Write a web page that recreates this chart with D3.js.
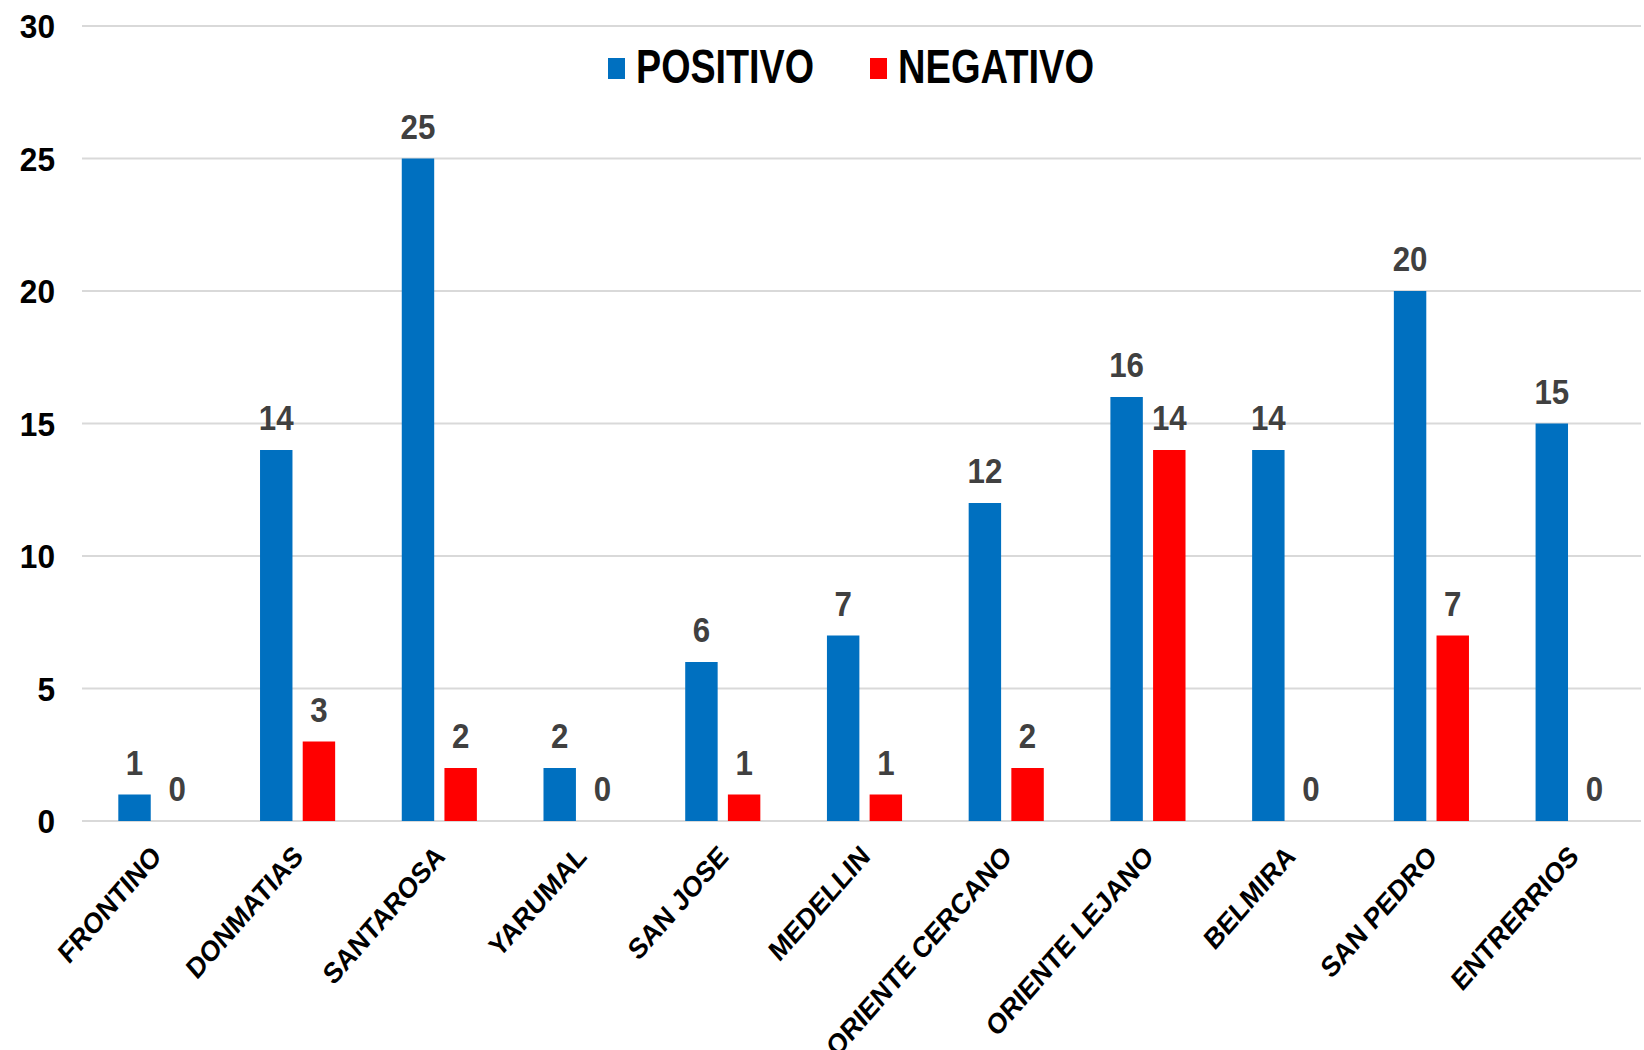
<!DOCTYPE html>
<html>
<head>
<meta charset="utf-8">
<script src="https://cdn.jsdelivr.net/npm/d3@7"></script>
<style>
  html, body { margin: 0; padding: 0; background: #fff; }
  svg { display: block; }
  text { font-family: "Liberation Sans", Arial, sans-serif; font-weight: bold; }
</style>
</head>
<body>
<svg id="chart" width="1644" height="1050"></svg>
<script>
const categories = ["FRONTINO", "DONMATIAS", "SANTAROSA", "YARUMAL", "SAN JOSE", "MEDELLIN",
  "ORIENTE CERCANO", "ORIENTE LEJANO", "BELMIRA", "SAN PEDRO", "ENTRERRIOS"];
const positivo = [1, 14, 25, 2, 6, 7, 12, 16, 14, 20, 15];
const negativo = [0, 3, 2, 0, 1, 1, 2, 14, 0, 7, 0];
const seriesNames = ["POSITIVO", "NEGATIVO"];
const yTicks = [0, 5, 10, 15, 20, 25, 30];

const colors = { POSITIVO: "#0070C0", NEGATIVO: "#FF0000" };
const rows = categories.map((c, i) => ({ cat: c, POSITIVO: positivo[i], NEGATIVO: negativo[i] }));

const svg = d3.select("#chart");
const plot = { left: 85, right: 1644, top: 26, bottom: 821, gridLeft: 82, gridRight: 1641 };

const x0 = d3.scaleBand().domain(categories).range([plot.left, plot.right])
  .paddingInner(0.47).paddingOuter(0.235);
const x1 = d3.scaleBand().domain(seriesNames).range([0, x0.bandwidth()])
  .paddingInner(0.24).paddingOuter(0);
const y = d3.scaleLinear().domain([0, 30]).range([plot.bottom, plot.top]);

// gridlines
svg.append("g").selectAll("line").data(yTicks).join("line")
  .attr("x1", plot.gridLeft).attr("x2", plot.gridRight)
  .attr("y1", d => y(d)).attr("y2", d => y(d))
  .attr("stroke", "#d9d9d9").attr("stroke-width", 2);

// y labels
svg.append("g").selectAll("text").data(yTicks).join("text")
  .attr("transform", d => `translate(55,${y(d) + 12}) scale(0.93,1)`)
  .attr("text-anchor", "end")
  .attr("font-size", 34)
  .attr("fill", "#000")
  .text(d => d);

// bars
const groups = svg.append("g").selectAll("g").data(rows).join("g")
  .attr("transform", d => `translate(${x0(d.cat)},0)`);

groups.selectAll("rect").data(d => seriesNames.map(s => ({ s, v: d[s] }))).join("rect")
  .attr("x", d => x1(d.s))
  .attr("width", x1.bandwidth())
  .attr("y", d => y(d.v))
  .attr("height", d => y(0) - y(d.v))
  .attr("fill", d => colors[d.s]);

// data labels
groups.selectAll("text").data(d => seriesNames.map(s => ({ s, v: d[s] }))).join("text")
  .attr("transform", d => `translate(${x1(d.s) + x1.bandwidth() / 2},${y(d.v) - 20}) scale(0.92,1.05)`)
  .attr("text-anchor", "middle")
  .attr("font-size", 34)
  .attr("fill", "#404040")
  .text(d => d.v);

// x labels
svg.append("g").selectAll("text").data(categories).join("text")
  .attr("transform", d => `translate(${x0(d) + x0.bandwidth() / 2 + 7},858) scale(0.88,1) rotate(-45)`)
  .attr("text-anchor", "end")
  .attr("font-size", 29)
  .attr("fill", "#000")
  .text(d => d);

// legend
const legendItems = [
  { name: "POSITIVO", sx: 608, tx: 636, len: 178 },
  { name: "NEGATIVO", sx: 870, tx: 898, len: 196 }
];
const lg = svg.append("g");
lg.selectAll("rect").data(legendItems).join("rect")
  .attr("x", d => d.sx).attr("y", 58).attr("width", 17).attr("height", 21)
  .attr("fill", d => colors[d.name]);
lg.selectAll("text").data(legendItems).join("text")
  .attr("x", d => d.tx).attr("y", 83)
  .attr("font-size", 48)
  .attr("textLength", d => d.len)
  .attr("lengthAdjust", "spacingAndGlyphs")
  .attr("fill", "#000")
  .text(d => d.name);
</script>
</body>
</html>
